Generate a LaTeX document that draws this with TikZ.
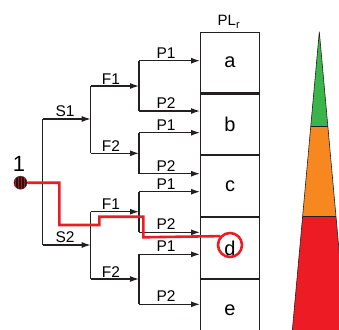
\documentclass[tikz,border=0pt]{standalone}
\usepackage{fontspec}
\setmainfont{Liberation Sans}
\usetikzlibrary{arrows.meta,patterns}
\definecolor{pred}{HTML}{ED1C24}
\definecolor{porange}{HTML}{F7881F}
\definecolor{pgreen}{HTML}{39B54A}
\definecolor{lineg}{HTML}{231F20}
\tikzset{
  br/.style={draw=lineg, line width=1.2pt},
  arr/.style={br, -{Latex[length=9pt,width=6pt]}},
  lab/.style={font=\fontsize{15.5}{15.5}\selectfont, anchor=south, inner sep=0pt, outer sep=0pt},
  cell/.style={draw=lineg, line width=1.1pt, minimum width=59pt, minimum height=60.7pt, inner sep=0pt, font=\fontsize{20}{20}\selectfont},
  hl/.style={draw=pred, line width=2.6pt},
  tri/.style={draw=lineg, line width=0.6pt},
}
\begin{document}
\begin{tikzpicture}[x=1pt,y=-1pt]
\useasboundingbox (0,0) rectangle (339,329);
\begin{scope}
\clip (0,0) rectangle (339,329);
% ladder
\node[cell, anchor=north west] (a) at (200,31.7) {a};
\node[cell, anchor=north] (b) at (a.south) {b};
\node[cell, anchor=north] (c) at (b.south) {c};
\node[cell, anchor=north] (d) at (c.south) {\raisebox{0.5pt}{d}};
\node[cell, anchor=north] (e) at (d.south) {e};
% triangle
\fill[pred] (302.7,216) -- (335.9,216) -- (346.7,335) -- (291.9,335) -- cycle;
\fill[porange] (310.8,126) -- (327.8,126) -- (335.9,216) -- (302.7,216) -- cycle;
\fill[pgreen] (319.3,31.7) -- (327.8,126) -- (310.8,126) -- cycle;
\draw[tri] (291.9,335) -- (319.3,31.7) -- (346.7,335);
\draw[tri] (310.8,126) -- (327.8,126);
\draw[tri] (302.7,216) -- (335.9,216);
\end{scope}
\node[anchor=base west, inner sep=0pt, font=\fontsize{15}{15}\selectfont] (plr) at (217.5,26) {PL\raisebox{-3pt}{\fontsize{11}{11}\selectfont r}};
% coordinates
\coordinate (sA) at (42.7,119);
\coordinate (sB) at (42.7,245);
\coordinate (sM) at (42.7,182.7);
\coordinate (fA1) at (90.7,86);
\coordinate (fA2) at (90.7,153.3);
\coordinate (fAm) at (90.7,119);
\coordinate (fB1) at (90.7,211.7);
\coordinate (fB2) at (90.7,279);
\coordinate (fBm) at (90.7,245);
\foreach \n/\ya/\yb/\ym in {pA/60.7/111/86, pB/132.7/173.7/153.3, pC/191.7/232.3/211.7, pD/254.3/304.3/279}{
  \coordinate (\n1) at (139,\ya);
  \coordinate (\n2) at (139,\yb);
  \coordinate (\n m) at (139,\ym);
  \coordinate (\n1e) at (200,\ya);
  \coordinate (\n2e) at (200,\yb);
}
% root
\node[circle, minimum size=13pt, inner sep=0pt, draw=black!80, line width=0.5pt, fill={rgb,255:red,45;green,15;blue,18}, postaction={pattern=vertical lines, pattern color=pred!75!black}] (r) at (20.5,182.7) {};
\node[font=\fontsize{22}{22}\selectfont, anchor=south, inner sep=0pt] (one) at (19,171.5) {1};
% tree
\draw[br] (r.east) -- (sM);
\draw[br] (sA) -- (sB);
\draw[arr] (sA) -- (fAm);
\draw[arr] (sB) -- (fBm);
\draw[br] (fA1) -- (fA2);
\draw[br] (fB1) -- (fB2);
\draw[arr] (fA1) -- (pAm);
\draw[arr] (fA2) -- (pBm);
\draw[arr] (fB1) -- (pCm);
\draw[arr] (fB2) -- (pDm);
\foreach \n in {pA,pB,pC,pD}{
  \draw[br] (\n1) -- (\n2);
  \draw[arr] (\n1) -- (\n1e);
  \draw[arr] (\n2) -- (\n2e);
}
% labels
\node[lab] at (65,117) {S1};
\node[lab] at (65,243) {S2};
\node[lab] at (111,84) {F1};
\node[lab] at (111,151.3) {F2};
\node[lab] at (111,209.7) {F1};
\node[lab] at (111,277) {F2};
\foreach \n/\ya/\yb in {pA/60.7/111, pB/132.7/173.7, pC/191.7/232.3, pD/254.3/304.3}{
  \node[lab] at (166,\ya-2.5) {P1};
  \node[lab] at (166,\yb-2.5) {P2};
}
% highlighted path
\node[circle, hl, minimum size=24pt, inner sep=0pt] (dc) at (230,245) {};
\draw[hl] (r.east) -- (59.3,182.7) -- (59.3,225) -- (99.3,225) -- (99.3,216.7) -- (143.3,216.7) -- (143.3,237.3) -- (dc.138);
\end{tikzpicture}
\end{document}
